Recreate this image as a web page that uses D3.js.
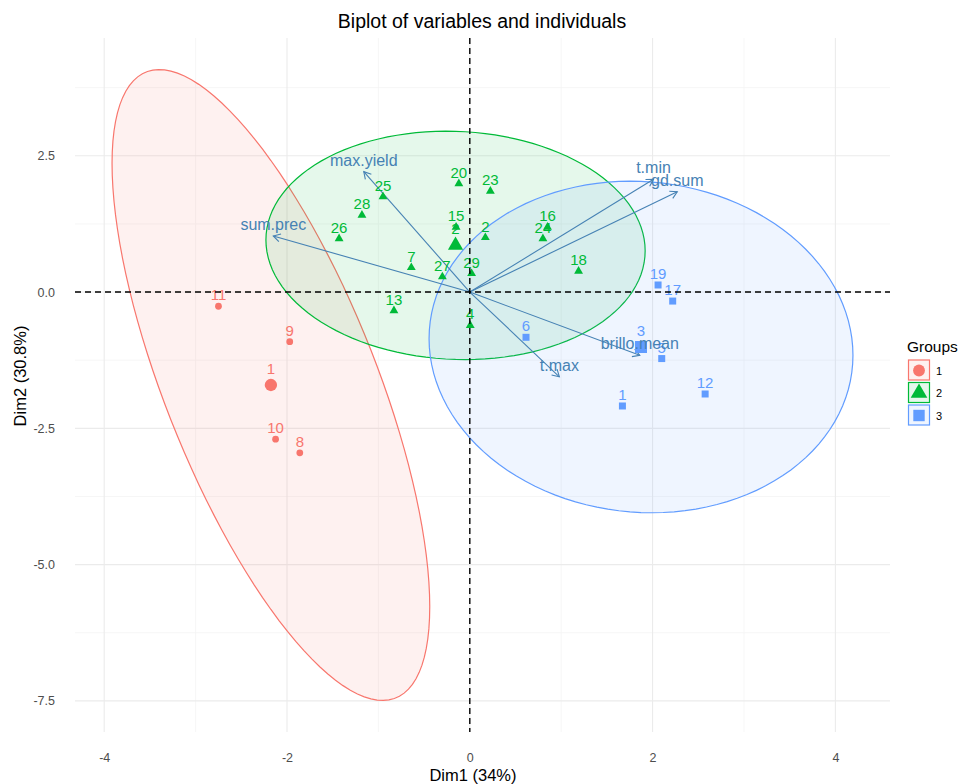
<!DOCTYPE html>
<html>
<head>
<meta charset="utf-8">
<script src="https://cdn.jsdelivr.net/npm/d3@7"></script>
<style>
  html, body { margin: 0; padding: 0; background: #fff; }
  svg { display: block; font-family: "Liberation Sans", Arial, sans-serif; }
</style>
</head>
<body>
<svg id="chart" width="962" height="784"></svg>
<script>
// Individuals: PCA coordinates and cluster membership
const indLabels = ["11", "9", "10", "8",
  "20", "23", "25", "28", "26", "15", "2", "16", "24", "7", "27", "29", "18", "13", "4",
  "19", "17", "6", "5", "1", "12"];
const indDim1 = [-2.75, -1.97, -2.125, -1.86,
  -0.12, 0.225, -0.95, -1.18, -1.43, -0.15, 0.17, 0.85, 0.80, -0.64, -0.30, 0.02, 1.19, -0.83, 0.005,
  2.06, 2.22, 0.615, 2.10, 1.67, 2.575];
const indDim2 = [-0.26, -0.91, -2.70, -2.95,
  1.99, 1.85, 1.75, 1.41, 0.98, 1.19, 1.00, 1.19, 0.98, 0.45, 0.28, 0.34, 0.385, -0.34, -0.61,
  0.13, -0.165, -0.83, -1.22, -2.09, -1.87];
const indGroup = [1, 1, 1, 1,
  2, 2, 2, 2, 2, 2, 2, 2, 2, 2, 2, 2, 2, 2, 2,
  3, 3, 3, 3, 3, 3];

// Variables: loadings drawn as arrows
const varNames = ["max.yield", "sum.prec", "t.min", "gd.sum", "brillo.mean", "t.max"];
const varDim1 = [-1.16, -2.15, 2.01, 2.27, 1.86, 0.98];
const varDim2 = [2.21, 1.03, 2.07, 1.84, -1.16, -1.555];

const groups = [1, 2, 3];
const groupColors = ["#F8766D", "#00BA38", "#619CFF"];
const groupShapes = [d3.symbolCircle, d3.symbolTriangle, d3.symbolSquare];

const xTicks = [-4, -2, 0, 2, 4];
const xMinor = [-3, -1, 1, 3];
const yTicks = [-7.5, -5, -2.5, 0, 2.5];
const yMinor = [-6.25, -3.75, -1.25, 1.25, 3.75];
const xTickLabels = ["-4", "-2", "0", "2", "4"];
const yTickLabels = ["-7.5", "-5.0", "-2.5", "0.0", "2.5"];

const svg = d3.select("#chart");

// Rows of individuals
const inds = indLabels.map((l, i) => ({ label: l, x: indDim1[i], y: indDim2[i], g: indGroup[i] }));

// 95% normal confidence ellipse for each group (as ggplot's stat_ellipse type = "norm")
function fQuantile2(p, d) { // F(2, d) quantile, closed form
  return (d / 2) * (Math.pow(1 - p, -2 / d) - 1);
}
const ellipses = groups.map((g, gi) => {
  const pts = inds.filter(d => d.g === g);
  const n = pts.length;
  const mx = d3.mean(pts, d => d.x), my = d3.mean(pts, d => d.y);
  const sxx = d3.sum(pts, d => (d.x - mx) ** 2) / (n - 1);
  const syy = d3.sum(pts, d => (d.y - my) ** 2) / (n - 1);
  const sxy = d3.sum(pts, d => (d.x - mx) * (d.y - my)) / (n - 1);
  const r = Math.sqrt(2 * fQuantile2(0.95, n - 1));
  const l11 = Math.sqrt(sxx), l21 = sxy / l11, l22 = Math.sqrt(syy - l21 * l21);
  const outline = d3.range(0, 2 * Math.PI, 2 * Math.PI / 120).map(t => {
    const c = Math.cos(t), s = Math.sin(t);
    return [mx + r * l11 * c, my + r * (l21 * c + l22 * s)];
  });
  return { g, gi, mx, my, outline,
    xr: [mx - r * Math.sqrt(sxx), mx + r * Math.sqrt(sxx)],
    yr: [my - r * Math.sqrt(syy), my + r * Math.sqrt(syy)] };
});

// Axis limits: everything drawn, expanded by 5%
const allX = [...indDim1, ...varDim1, 0, ...ellipses.flatMap(e => e.xr)];
const allY = [...indDim2, ...varDim2, 0, ...ellipses.flatMap(e => e.yr)];
function expand([a, b]) { const m = (b - a) * 0.05; return [a - m, b + m]; }
const xDom = expand(d3.extent(allX));
const yDom = expand(d3.extent(allY));

const panel = { left: 75, right: 890, top: 38, bottom: 732 };
const x = d3.scaleLinear().domain(xDom).range([panel.left, panel.right]);
const y = d3.scaleLinear().domain(yDom).range([panel.bottom, panel.top]);

// Grid
const grid = svg.append("g");
grid.selectAll("line.xminor").data(xMinor).join("line")
  .attr("x1", d => x(d)).attr("x2", d => x(d))
  .attr("y1", panel.top).attr("y2", panel.bottom)
  .attr("stroke", "#f4f4f4").attr("stroke-width", 0.8);
grid.selectAll("line.yminor").data(yMinor).join("line")
  .attr("y1", d => y(d)).attr("y2", d => y(d))
  .attr("x1", panel.left).attr("x2", panel.right)
  .attr("stroke", "#f4f4f4").attr("stroke-width", 0.8);
grid.selectAll("line.xmajor").data(xTicks).join("line")
  .attr("x1", d => x(d)).attr("x2", d => x(d))
  .attr("y1", panel.top).attr("y2", panel.bottom)
  .attr("stroke", "#ebebeb").attr("stroke-width", 1.1);
grid.selectAll("line.ymajor").data(yTicks).join("line")
  .attr("y1", d => y(d)).attr("y2", d => y(d))
  .attr("x1", panel.left).attr("x2", panel.right)
  .attr("stroke", "#ebebeb").attr("stroke-width", 1.1);

// Axes (labels only, minimal theme)
const xAxis = d3.axisBottom(x).tickValues(xTicks).tickSize(0).tickPadding(0)
  .tickFormat((d, i) => xTickLabels[i]);
svg.append("g").attr("transform", `translate(0, ${panel.bottom + 21})`).call(xAxis)
  .call(g => g.select(".domain").remove())
  .call(g => g.selectAll("text").attr("fill", "#4d4d4d").attr("font-size", 12.5)
    .attr("font-family", "Liberation Sans, Arial, sans-serif"));
const yAxis = d3.axisLeft(y).tickValues(yTicks).tickSize(0).tickPadding(0)
  .tickFormat((d, i) => yTickLabels[i]);
svg.append("g").attr("transform", "translate(55, 0)").call(yAxis)
  .call(g => g.select(".domain").remove())
  .call(g => g.selectAll("text").attr("fill", "#4d4d4d").attr("font-size", 12.5)
    .attr("font-family", "Liberation Sans, Arial, sans-serif"));

// Ellipses
const line = d3.line().x(d => x(d[0])).y(d => y(d[1])).curve(d3.curveLinearClosed);
svg.append("g").selectAll("path").data(ellipses).join("path")
  .attr("d", d => line(d.outline))
  .attr("fill", d => groupColors[d.gi]).attr("fill-opacity", 0.1)
  .attr("stroke", d => groupColors[d.gi]).attr("stroke-width", 1.2);

// Variable arrows
const arrowColor = "#4682B4";
const vars = varNames.map((n, i) => ({ name: n, x: varDim1[i], y: varDim2[i] }));
const arrows = svg.append("g").attr("stroke", arrowColor).attr("stroke-width", 1.1).attr("fill", "none");
vars.forEach(v => {
  const x0 = x(0), y0 = y(0), x1 = x(v.x), y1 = y(v.y);
  const a = Math.atan2(y1 - y0, x1 - x0), len = 8, spread = Math.PI / 6;
  arrows.append("line").attr("x1", x0).attr("y1", y0).attr("x2", x1).attr("y2", y1);
  arrows.append("path").attr("d",
    `M${x1 - len * Math.cos(a - spread)},${y1 - len * Math.sin(a - spread)}L${x1},${y1}` +
    `L${x1 - len * Math.cos(a + spread)},${y1 - len * Math.sin(a + spread)}`);
});

// Individuals
const sym = d3.symbol();
const sizeSmall = [36, 34, 49], sizeBig = [120, 100, 144];
svg.append("g").selectAll("path").data(inds).join("path")
  .attr("transform", d => `translate(${x(d.x)},${y(d.y)})`)
  .attr("d", d => sym.type(groupShapes[d.g - 1]).size(sizeSmall[d.g - 1])())
  .attr("fill", d => groupColors[d.g - 1]);
svg.append("g").selectAll("text").data(inds).join("text")
  .attr("x", d => x(d.x)).attr("y", d => y(d.y) - 6)
  .attr("text-anchor", "middle").attr("font-size", 15)
  .attr("fill", d => groupColors[d.g - 1]).text(d => d.label);

// Group centroids
svg.append("g").selectAll("path").data(ellipses).join("path")
  .attr("transform", d => `translate(${x(d.mx)},${y(d.my)})`)
  .attr("d", d => sym.type(groupShapes[d.gi]).size(sizeBig[d.gi])())
  .attr("fill", d => groupColors[d.gi]);
svg.append("g").selectAll("text").data(ellipses).join("text")
  .attr("x", d => x(d.mx)).attr("y", d => y(d.my) - 11)
  .attr("text-anchor", "middle").attr("font-size", 15)
  .attr("fill", d => groupColors[d.gi]).text(d => d.g);

// Variable labels
svg.append("g").selectAll("text").data(vars).join("text")
  .attr("x", d => x(d.x)).attr("y", d => y(d.y) - 6)
  .attr("text-anchor", "middle").attr("font-size", 16)
  .attr("fill", arrowColor).text(d => d.name);

// Reference lines through the origin
svg.append("line").attr("x1", x(0)).attr("x2", x(0)).attr("y1", panel.top).attr("y2", panel.bottom)
  .attr("stroke", "#000").attr("stroke-width", 1.4).attr("stroke-dasharray", "6,4");
svg.append("line").attr("y1", y(0)).attr("y2", y(0)).attr("x1", panel.left).attr("x2", panel.right)
  .attr("stroke", "#000").attr("stroke-width", 1.4).attr("stroke-dasharray", "6,4");

// Titles
svg.append("text").attr("x", 482).attr("y", 28).attr("text-anchor", "middle")
  .attr("font-size", 19.5).attr("fill", "#000").text("Biplot of variables and individuals");
svg.append("text").attr("x", 473).attr("y", 781).attr("text-anchor", "middle")
  .attr("font-size", 16.5).attr("fill", "#000").text("Dim1 (34%)");
svg.append("text").attr("transform", "translate(26, 376) rotate(-90)").attr("text-anchor", "middle")
  .attr("font-size", 16.5).attr("fill", "#000").text("Dim2 (30.8%)");

// Legend
const legend = svg.append("g").attr("transform", "translate(907, 0)");
legend.append("text").attr("x", 0).attr("y", 352).attr("font-size", 15.5).attr("fill", "#000").text("Groups");
const keys = legend.selectAll("g.key").data(groups).join("g")
  .attr("transform", (d, i) => `translate(0, ${359 + i * 22.5})`);
keys.append("rect").attr("x", 1.5).attr("y", 1).attr("width", 21).attr("height", 20)
  .attr("fill", (d, i) => groupColors[i]).attr("fill-opacity", 0.1)
  .attr("stroke", (d, i) => groupColors[i]).attr("stroke-width", 1.2);
keys.append("path").attr("transform", "translate(12, 11.5)")
  .attr("d", (d, i) => sym.type(groupShapes[i]).size([110, 120, 130][i])())
  .attr("fill", (d, i) => groupColors[i]);
keys.append("text").attr("x", 29).attr("y", 15.5).attr("font-size", 11).attr("fill", "#000").text(d => d);
</script>
</body>
</html>
